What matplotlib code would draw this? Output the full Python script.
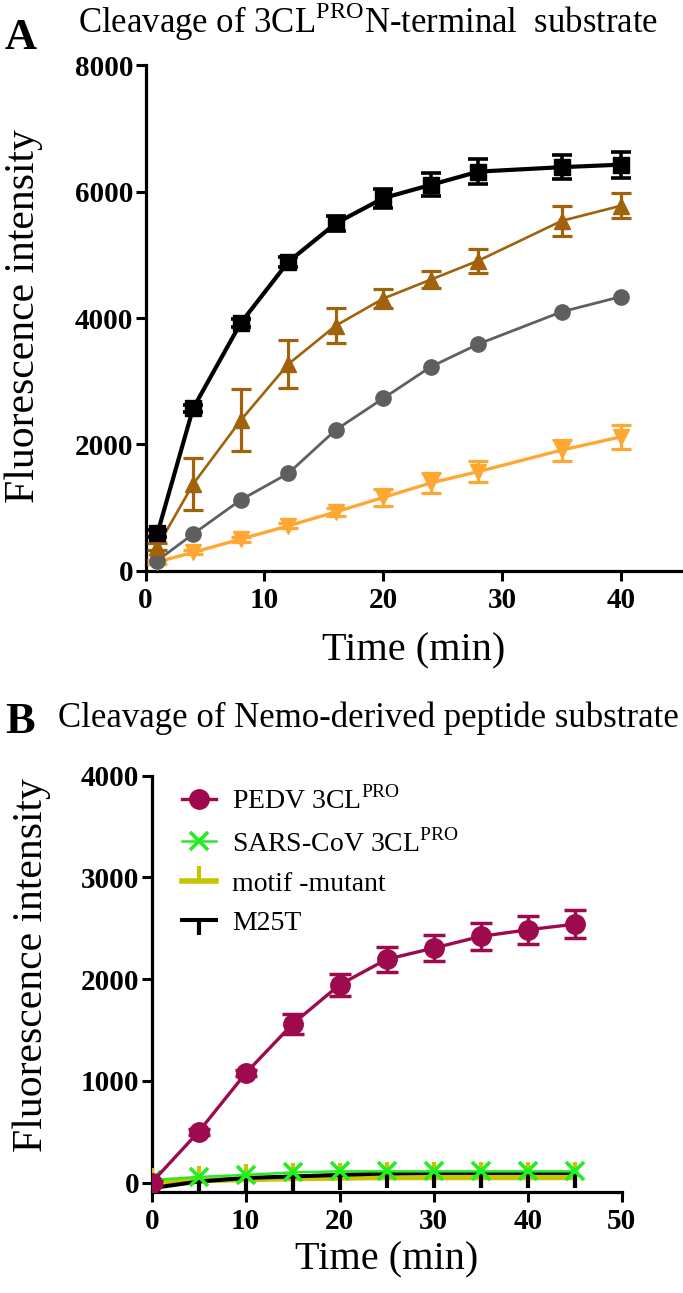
import matplotlib
matplotlib.use("Agg")
import matplotlib.pyplot as plt

plt.rcParams["font.family"] = ["Liberation Serif", "DejaVu Serif"]
plt.rcParams["mathtext.fontset"] = "custom"
plt.rcParams["mathtext.rm"] = "Liberation Serif"
plt.rcParams["mathtext.bf"] = "Liberation Serif:bold"

# ── Data: panel A (3CL-PRO N-terminal substrate) ─────────────────────────────
time_a = [1, 4, 8, 12, 16, 20, 24, 28, 35, 40]
black_a = [590, 2570, 3920, 4890, 5500, 5900, 6110, 6320, 6390, 6430]
black_err = [60, 60, 60, 80, 120, 150, 180, 200, 195, 205]
brown_a = [380, 1370, 2380, 3270, 3880, 4310, 4610, 4910, 5540, 5780]
brown_err = [60, 410, 490, 380, 280, 145, 140, 190, 240, 200]
gray_a = [160, 580, 1120, 1540, 2230, 2730, 3230, 3590, 4100, 4340]
orange_a = [140, 290, 500, 710, 930, 1160, 1390, 1570, 1910, 2120]
orange_err = [30, 30, 40, 40, 60, 130, 160, 160, 165, 185]

# ── Data: panel B (Nemo-derived peptide substrate) ───────────────────────────
time_b = [0, 5, 10, 15, 20, 25, 30, 35, 40, 45]
pedv_b = [0, 500, 1075, 1560, 1945, 2195, 2305, 2420, 2485, 2540]
pedv_err = [20, 30, 30, 100, 110, 125, 125, 130, 140, 140]
sars_b = [25, 55, 75, 100, 110, 110, 110, 110, 110, 110]
motif_b = [0, 20, 30, 40, 45, 50, 50, 50, 50, 50]
m25t_b = [-55, 10, 45, 60, 75, 90, 95, 95, 95, 95]

labels_b = [r"PEDV 3CL$^{\mathrm{PRO}}$", r"SARS-CoV 3CL$^{\mathrm{PRO}}$",
            "motif -mutant", "M25T"]

W, H = 683, 1293
fig = plt.figure(figsize=(W / 100, H / 100), dpi=100)


def px_axes(left, top, right, bottom):
    return fig.add_axes([left / W, 1 - bottom / H, (right - left) / W, (bottom - top) / H])


def fig_xy(x, y):
    return x / W, 1 - y / H


def style_axes(ax, tick_size):
    for side in ("top", "right"):
        ax.spines[side].set_visible(False)
    for side in ("left", "bottom"):
        ax.spines[side].set_linewidth(2.3)
    ax.tick_params(direction="out", length=7, width=2.2, labelsize=tick_size)
    ax.tick_params(axis="x", pad=5)
    ax.tick_params(axis="y", pad=2)
    for lab in ax.get_xticklabels() + ax.get_yticklabels():
        lab.set_fontweight("bold")


# ── Panel A ──────────────────────────────────────────────────────────────────
ax1 = px_axes(145.5, 65.5, 683, 570.7)
ax1.errorbar(time_a, orange_a, yerr=orange_err, color="#FFA733", lw=2.4, marker="v",
             ms=11, capsize=7, capthick=2.3, elinewidth=2.3, zorder=3)
ax1.errorbar(time_a, gray_a, color="#5f5f5f", lw=2.0, marker="o", ms=11, zorder=4)
ax1.errorbar(time_a, brown_a, yerr=brown_err, color="#A0620A", lw=1.9, marker="^",
             ms=11, capsize=7, capthick=2.3, elinewidth=2.3, zorder=5)
ax1.errorbar(time_a, black_a, yerr=black_err, color="black", lw=3.0, marker="s",
             ms=11, capsize=7, capthick=2.6, elinewidth=2.6, zorder=6)
ax1.set_xlim(0, 45.2)
ax1.set_ylim(0, 8000)
ax1.set_xticks([0, 10, 20, 30, 40])
ax1.set_yticks([0, 2000, 4000, 6000, 8000])
style_axes(ax1, 21)
ax1.set_xlabel("Time (min)", fontsize=29, va="center")
ax1.xaxis.set_label_coords(*fig_xy(414, 651), transform=fig.transFigure)
ax1.set_ylabel("Fluorescence intensity", fontsize=30, va="center")
ax1.yaxis.set_label_coords(*fig_xy(24, 316), transform=fig.transFigure)

fig.text(*fig_xy(5, 38), "A", fontsize=32, fontweight="bold", va="center", ha="left")
fig.text(*fig_xy(78, 22), r"Cleavage of 3CL$^{\mathrm{PRO}}$N-terminal  substrate",
         fontsize=25, va="center", ha="left")

# ── Panel B ──────────────────────────────────────────────────────────────────
ax2 = px_axes(151.7, 775.7, 621.7, 1191.7)
pedv_line = ax2.errorbar(time_b, pedv_b, yerr=pedv_err, color="#9E0A4E", lw=2.4, marker="o",
                         ms=14, capsize=8, capthick=2.5, elinewidth=2.5, zorder=6)
motif_line, = ax2.plot(time_b, motif_b, color="#C8C400", lw=4, marker=2, ms=11, mew=3,
                       zorder=3)
m25t_line, = ax2.plot(time_b, m25t_b, color="black", lw=2.9, marker=3, ms=11, mew=3,
                      zorder=4)
sars_line, = ax2.plot(time_b, sars_b, color="#22EE22", lw=1.8, marker="x", ms=13, mew=2.6,
                      zorder=5)
ax2.set_xlim(0, 50)
ax2.set_ylim(-90, 4000)
ax2.set_xticks([0, 10, 20, 30, 40, 50])
ax2.set_yticks([0, 1000, 2000, 3000, 4000])
style_axes(ax2, 21)
ax2.set_xlabel("Time (min)", fontsize=29, va="center")
ax2.xaxis.set_label_coords(*fig_xy(387, 1260), transform=fig.transFigure)
ax2.set_ylabel("Fluorescence intensity", fontsize=30, va="center")
ax2.yaxis.set_label_coords(*fig_xy(32, 965), transform=fig.transFigure)

ax2.legend([pedv_line[0], sars_line, motif_line, m25t_line], labels_b, loc="upper left",
           bbox_to_anchor=(0.03, 1.015), frameon=False, fontsize=20, handlelength=1.2,
           labelspacing=0.5, handletextpad=0.6, borderaxespad=0.2)

fig.text(*fig_xy(5, 722), "B", fontsize=32, fontweight="bold", va="center", ha="left")
fig.text(*fig_xy(58, 718), "Cleavage of Nemo-derived peptide substrate",
         fontsize=25, va="center", ha="left")

fig.savefig("out.png", dpi=100)
